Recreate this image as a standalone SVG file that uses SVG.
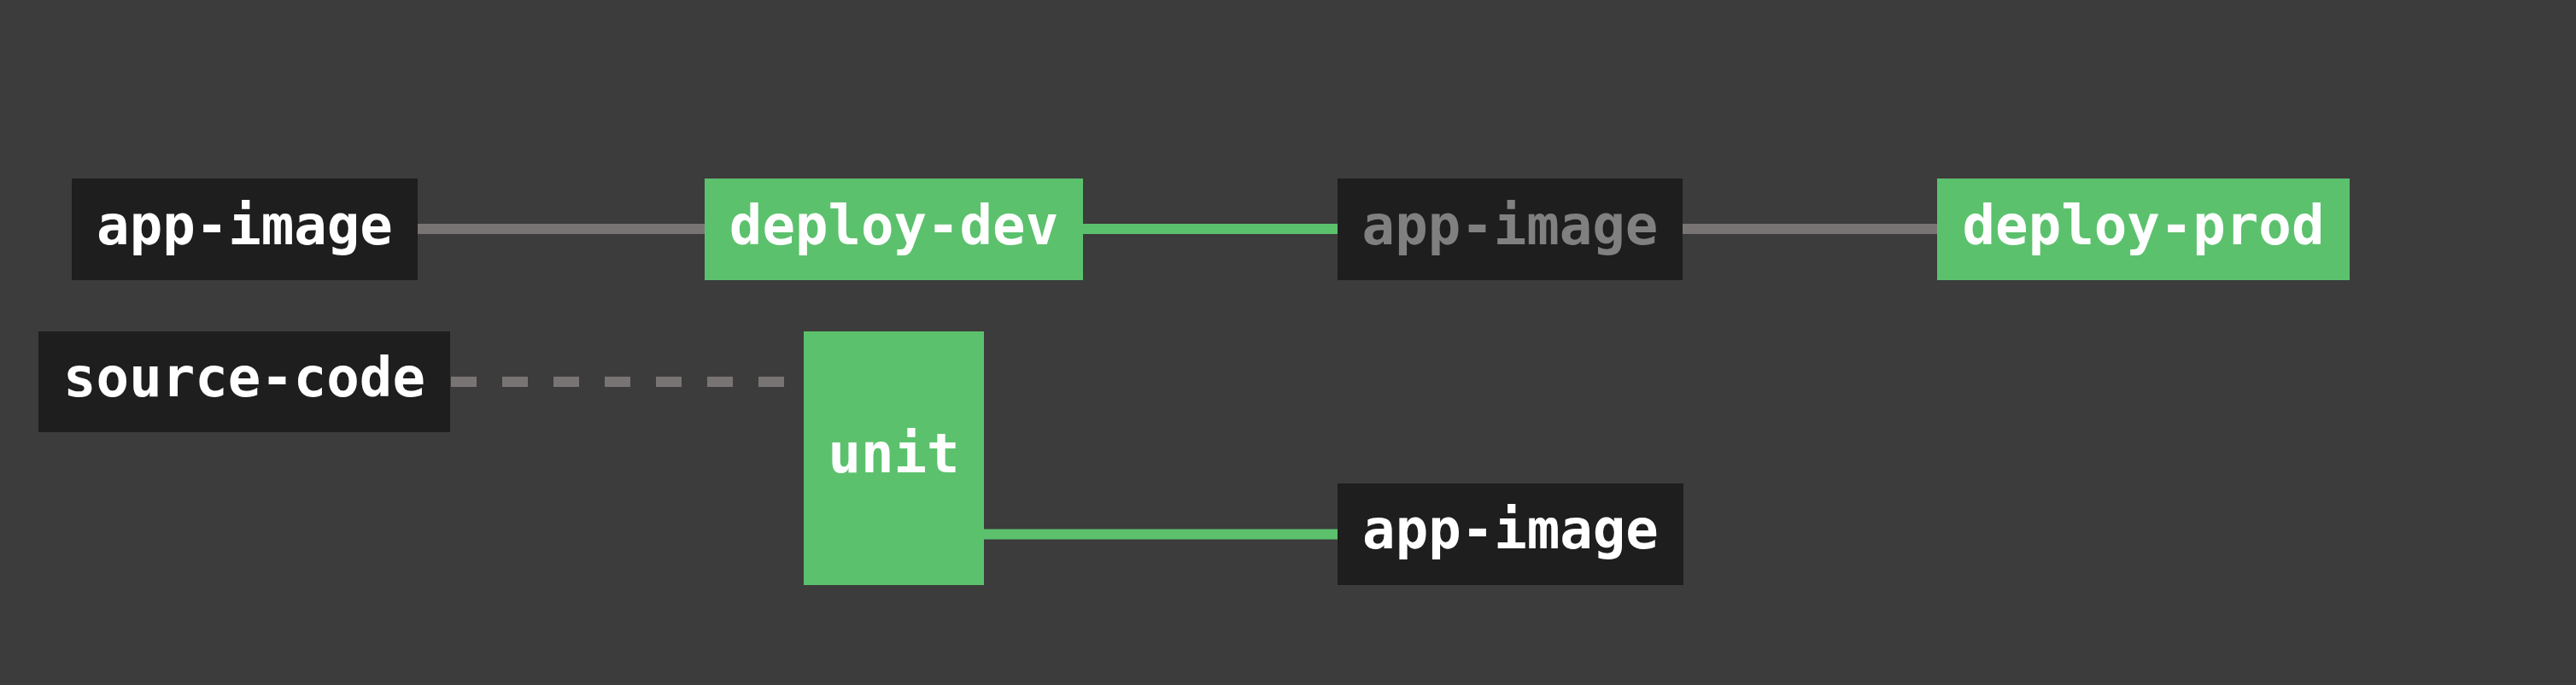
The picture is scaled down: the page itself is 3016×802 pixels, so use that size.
<svg xmlns="http://www.w3.org/2000/svg" width="3016" height="802" viewBox="0 0 3016 802">
<style>
.bg{fill:#3c3c3c}
.dark{fill:#1e1e1e}
.green{fill:#5cc16d}
.t{font-family:"DejaVu Sans Mono","Liberation Mono",monospace;font-weight:bold;font-size:64px;fill:#ffffff;text-anchor:middle}
.dim{fill:#808080}
.e{fill:none;stroke-width:12}
.eg{stroke:#797474}
.eG{stroke:#5cc16d}
.dash{stroke-dasharray:30 30}
</style>
<rect class="bg" x="0" y="0" width="3016" height="802"/>
<g id="connectors">
<line class="e eg" x1="489" y1="268" x2="826" y2="268"/>
<line class="e eG" x1="1268" y1="268" x2="1566" y2="268"/>
<line class="e eg" x1="1970" y1="268" x2="2268" y2="268"/>
<line class="e eg dash" x1="528" y1="447" x2="941" y2="447"/>
<line class="e eG" x1="1151" y1="625.5" x2="1566" y2="625.5"/>
</g>
<g id="node-app-image-1">
<rect class="dark" x="84" y="209" width="405" height="119"/>
<text class="t" x="286.5" y="286">app-image</text>
</g>
<g id="node-deploy-dev">
<rect class="green" x="825" y="209" width="443" height="119"/>
<text class="t" x="1046.5" y="286">deploy-dev</text>
</g>
<g id="node-app-image-2">
<rect class="dark" x="1566" y="209" width="404" height="119"/>
<text class="t dim" x="1768" y="286">app-image</text>
</g>
<g id="node-deploy-prod">
<rect class="green" x="2268" y="209" width="483" height="119"/>
<text class="t" x="2509.5" y="286">deploy-prod</text>
</g>
<g id="node-source-code">
<rect class="dark" x="45" y="388" width="482" height="118"/>
<text class="t" x="286" y="464">source-code</text>
</g>
<g id="node-unit">
<rect class="green" x="941" y="388" width="211" height="297"/>
<text class="t" x="1046.5" y="552.5">unit</text>
</g>
<g id="node-app-image-3">
<rect class="dark" x="1566" y="566" width="405" height="119"/>
<text class="t" x="1768.5" y="641.5">app-image</text>
</g>
</svg>
